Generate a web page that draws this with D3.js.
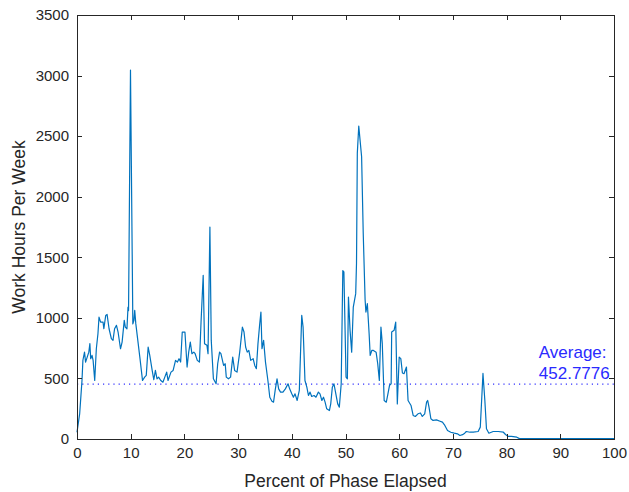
<!DOCTYPE html>
<meta charset="utf-8">
<style>
body { margin: 0; background: #fff; }
text { font-family: "Liberation Sans", Arial, sans-serif; }
.axis path, .axis line { stroke: #262626; stroke-width: 1px; shape-rendering: crispEdges; }
.axis text { fill: #262626; font-size: 15px; }
</style>
<body>
<script src="https://cdnjs.cloudflare.com/ajax/libs/d3/7.8.5/d3.min.js"></script>
<script>
// percent of phase elapsed
var pct = [0, 0.5, 0.93, 1.1, 1.4, 1.6, 1.9, 2.2, 2.4, 2.55, 2.8, 3.0, 3.3, 3.6, 3.9, 4.1, 4.4, 4.85, 5.0, 5.35,
  5.6, 5.97, 6.4, 6.7, 7.0, 7.35, 7.65, 8.1, 8.4, 8.8, 9.0, 9.3, 9.5, 9.6, 9.96, 10.4, 10.6, 10.75, 10.95, 11.7,
  12.2, 12.6, 12.9, 13.25, 13.55, 14.0, 14.3, 14.6, 14.9, 15.2, 15.6, 16.0, 16.35, 16.7, 16.95, 17.5, 17.9, 18.35, 18.7, 19.0,
  19.3, 19.6, 20.1, 20.5, 20.8, 21.1, 21.4, 21.75, 22.0, 22.4, 22.8, 23.1, 23.5, 23.75, 24.2, 24.4, 24.75, 25.0, 25.4, 25.9,
  26.2, 26.55, 26.8, 27.3, 27.6, 27.8, 28.2, 28.6, 29.0, 29.35, 29.8, 30.3, 30.8, 31.1, 31.4, 31.7, 32.0, 32.35, 32.8, 33.1,
  33.4, 33.7, 34.0, 34.25, 34.45, 34.75, 35.1, 35.55, 35.9, 36.3, 36.6, 36.9, 37.25, 37.55, 37.9, 38.35, 38.8, 39.3, 39.6, 40.0,
  40.3, 40.6, 41.0, 41.4, 41.85, 42.1, 42.45, 42.8, 43.1, 43.4, 43.7, 44.15, 44.5, 44.95, 45.25, 45.6, 45.9, 46.2, 46.5, 47.0,
  47.25, 47.55, 47.85, 48.2, 48.55, 48.85, 49.2, 49.5, 49.7, 50.1, 50.35, 50.55, 50.85, 51.15, 51.45, 51.9, 52.05, 52.2, 52.47, 53.0,
  53.3, 53.65, 53.8, 54.07, 54.4, 54.6, 54.9, 55.2, 55.7, 56.0, 56.3, 56.6, 56.85, 57.2, 57.6, 57.9, 58.2, 58.5, 58.6, 59.05,
  59.35, 59.65, 60.0, 60.3, 60.6, 60.9, 61.35, 61.65, 62.2, 62.6, 63.0, 63.5, 63.95, 64.3, 64.75, 65.1, 65.3, 65.55, 65.9, 66.3,
  66.95, 67.6, 68.05, 68.5, 69.0, 69.6, 70.25, 70.85, 71.3, 71.8, 72.2, 72.5, 73.2, 73.8, 74.7, 75.1, 75.35, 75.6, 75.95, 76.25,
  76.7, 77.5, 78.45, 79.4, 79.8, 80.3, 80.9, 81.9, 82.4, 100];
// work hours per week
var hours = [56, 210, 483, 650, 717, 635, 676, 717, 787, 663, 690, 649, 483, 745, 869, 1006, 965, 965, 910, 1020,
  1029, 910, 828, 814, 910, 938, 883, 745, 800, 979, 924, 910, 1089, 1060, 3045, 950, 979, 1062, 952, 676,
  483, 511, 525, 759, 690, 566, 489, 566, 497, 511, 483, 469, 511, 552, 483, 552, 566, 649, 635, 663,
  635, 883, 883, 594, 717, 800, 704, 717, 704, 649, 635, 965, 1351, 787, 773, 704, 1750, 814, 497, 456,
  621, 717, 704, 607, 621, 511, 497, 511, 676, 566, 552, 717, 924, 883, 759, 717, 731, 649, 663, 607,
  580, 787, 938, 1048, 745, 814, 635, 483, 345, 312, 304, 401, 497, 414, 387, 387, 414, 456, 414, 373,
  345, 373, 318, 401, 1020, 924, 483, 428, 359, 387, 351, 359, 345, 387, 373, 318, 345, 304, 249, 235,
  290, 428, 456, 373, 290, 263, 456, 1390, 1380, 511, 497, 1172, 897, 717, 1089, 1200, 1450, 2360, 2583, 2330,
  1700, 1150, 1048, 1117, 869, 690, 731, 731, 717, 621, 483, 924, 787, 318, 304, 373, 442, 456, 883, 897,
  965, 290, 676, 663, 545, 539, 594, 318, 277, 194, 186, 208, 215, 186, 208, 304, 318, 263, 167, 153,
  158, 147, 139, 112, 70, 56, 48, 43, 29, 36, 48, 62, 56, 56, 62, 98, 318, 541, 318, 84,
  48, 62, 62, 56, 37, 21, 21, 15, 3, 3];
var average = 452.7776;
var xTicks = [0, 10, 20, 30, 40, 50, 60, 70, 80, 90, 100];
var yTicks = [0, 500, 1000, 1500, 2000, 2500, 3000, 3500];

var width = 629, height = 492;
var margin = {left: 77, right: 15, top: 15, bottom: 53};
var plotW = width - margin.left - margin.right,
    plotH = height - margin.top - margin.bottom;

var svg = d3.select("body").append("svg")
    .attr("width", width)
    .attr("height", height);

var x = d3.scaleLinear().domain([0, 100]).range([0, plotW]);
var y = d3.scaleLinear().domain([0, 3500]).range([plotH, 0]);

var g = svg.append("g")
    .attr("transform", "translate(" + margin.left + "," + margin.top + ")");

// average line
g.append("line")
    .attr("x1", x(0)).attr("x2", x(100))
    .attr("y1", y(average)).attr("y2", y(average))
    .attr("stroke", "#3030ff")
    .attr("stroke-width", 1.2)
    .attr("stroke-dasharray", "1.2,4");

var data = pct.map(function(d, i) { return [d, hours[i]]; });
var line = d3.line()
    .x(function(d) { return x(d[0]); })
    .y(function(d) { return y(d[1]); });

g.append("path")
    .datum(data)
    .attr("fill", "none")
    .attr("stroke", "#0072BD")
    .attr("stroke-width", 1.2)
    .attr("stroke-linejoin", "round")
    .attr("d", line);

// axes with inward ticks, box style
g.append("g").attr("class", "axis")
    .attr("transform", "translate(0," + plotH + ")")
    .call(d3.axisBottom(x).tickValues(xTicks).tickSize(-5).tickSizeOuter(0).tickPadding(8));
g.append("g").attr("class", "axis")
    .call(d3.axisTop(x).tickValues(xTicks).tickSize(-5).tickSizeOuter(0).tickFormat(""));
g.append("g").attr("class", "axis")
    .call(d3.axisLeft(y).tickValues(yTicks).tickFormat(d3.format("d")).tickSize(-5).tickSizeOuter(0).tickPadding(8));
g.append("g").attr("class", "axis")
    .attr("transform", "translate(" + plotW + ",0)")
    .call(d3.axisRight(y).tickValues(yTicks).tickSize(-5).tickSizeOuter(0).tickFormat(""));

// average annotation
var ann = g.append("text")
    .attr("x", x(86))
    .attr("y", y(average) - 26)
    .attr("fill", "#2a2aff")
    .style("font-size", "17px");
ann.append("tspan").attr("x", x(86)).text("Average:");
ann.append("tspan").attr("x", x(86)).attr("dy", 21).text(average.toFixed(4));

// axis titles
svg.append("text")
    .attr("x", margin.left + plotW / 2)
    .attr("y", 487)
    .attr("text-anchor", "middle")
    .attr("fill", "#262626")
    .style("font-size", "17.5px")
    .text("Percent of Phase Elapsed");

svg.append("text")
    .attr("transform", "translate(25," + (margin.top + plotH / 2) + ") rotate(-90)")
    .attr("text-anchor", "middle")
    .attr("fill", "#262626")
    .style("font-size", "17.5px")
    .text("Work Hours Per Week");
</script>
</body>
